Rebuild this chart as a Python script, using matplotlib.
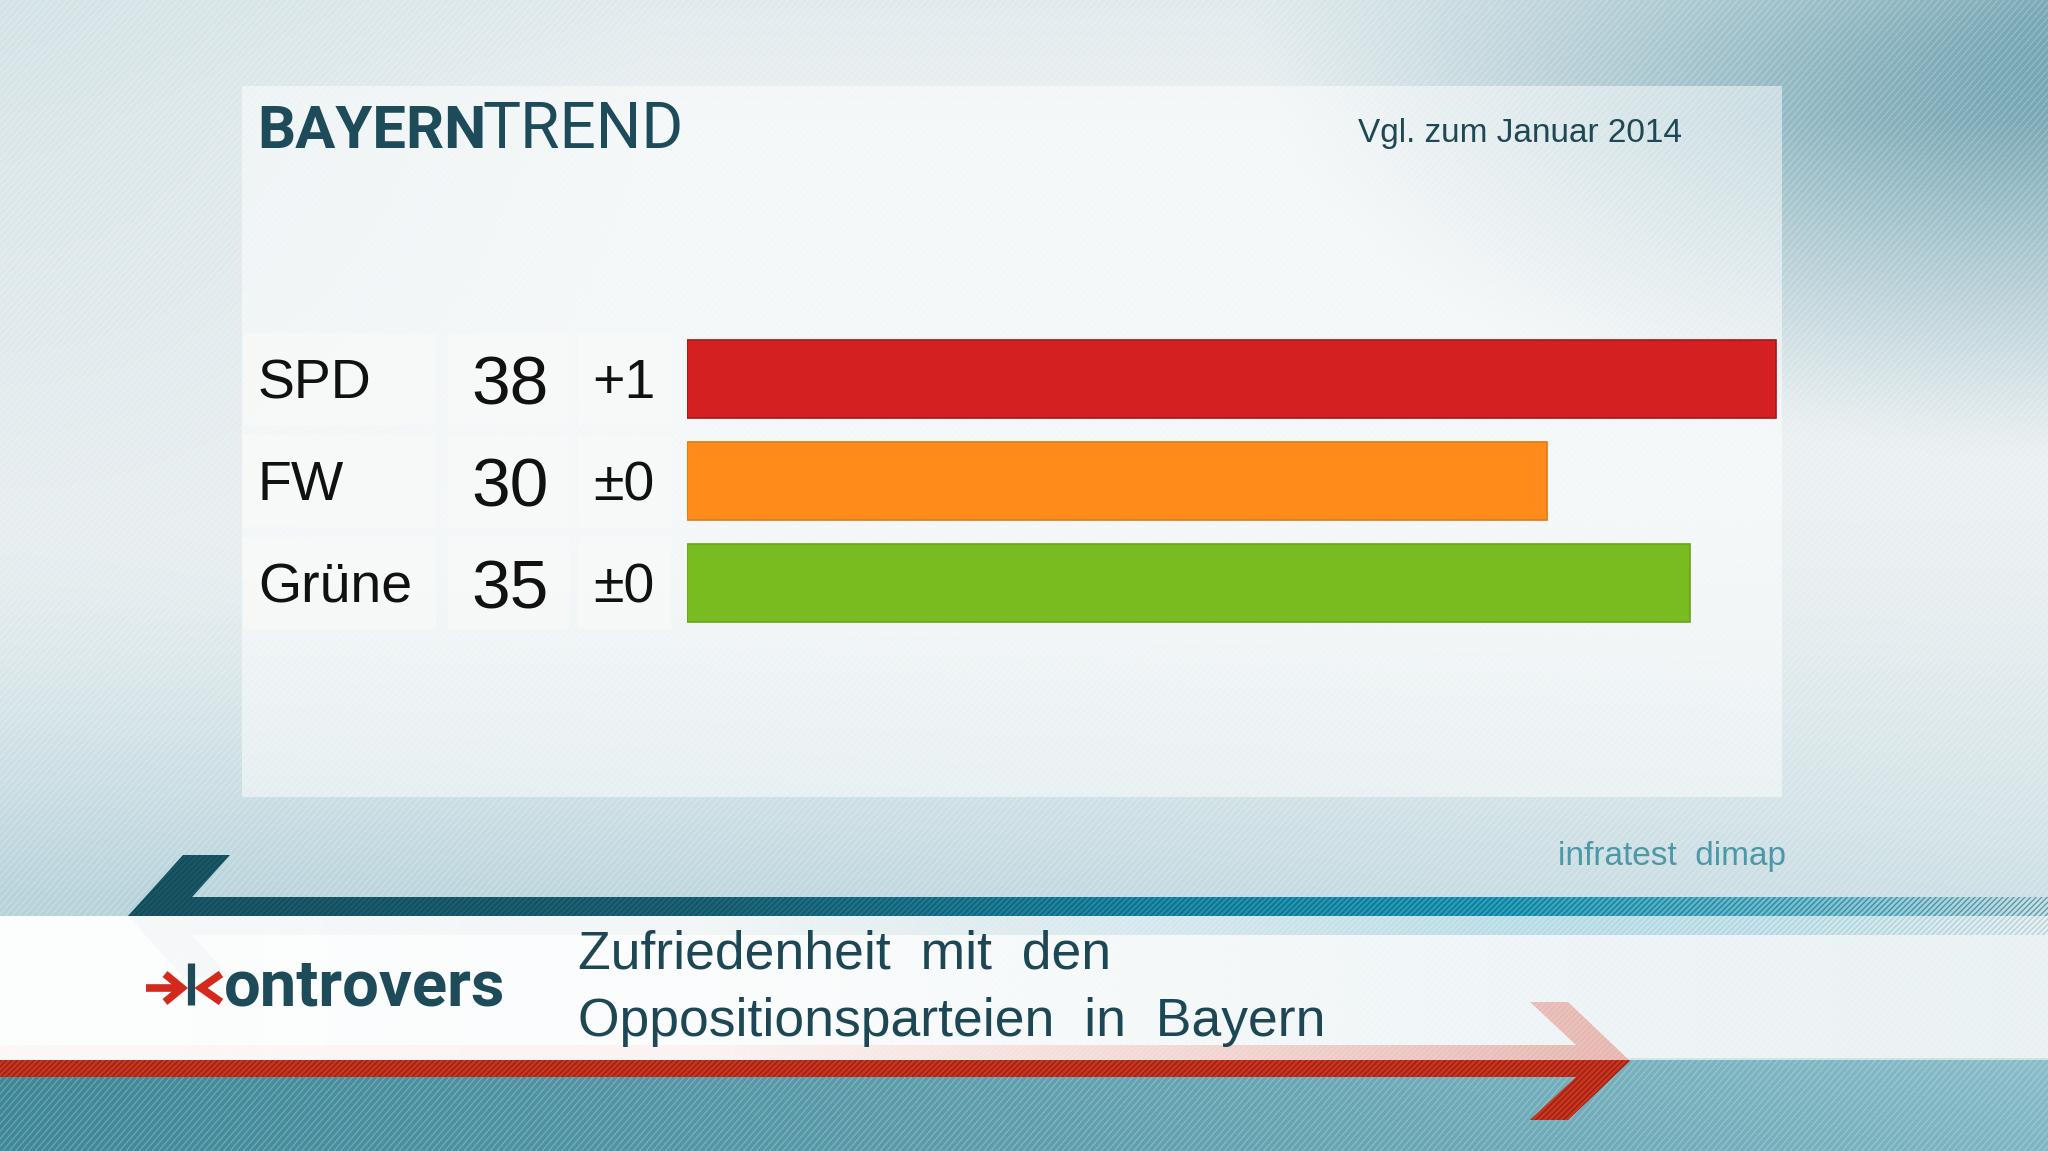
import numpy as np
import matplotlib
matplotlib.use("Agg")
import matplotlib.pyplot as plt
from matplotlib.patches import Rectangle, Polygon
from matplotlib.collections import LineCollection
from matplotlib.colors import to_rgb

plt.rcParams["font.family"] = ["Liberation Sans", "DejaVu Sans"]

# ── data ──────────────────────────────────────────────────────────
parties = ["SPD", "FW", "Grüne"]
satisfaction = [38, 30, 35]
change_vs_jan = ["+1", "±0", "±0"]

# ── styles ────────────────────────────────────────────────────────
bar_colors = ["#d42020", "#ff8c1a", "#79bc1f"]
bar_edges = ["#a51818", "#e07a12", "#68a41a"]
DARK_TEAL = "#1d4b5a"
TXT = "#111111"

W, H = 2048, 1151
fig = plt.figure(figsize=(W / 100, H / 100), dpi=100)
bg = fig.add_axes([0, 0, 1, 1])
bg.set_xlim(0, W)
bg.set_ylim(H, 0)
bg.axis("off")


def blend(img, col, t):
    c = np.array(to_rgb(col))
    return img * (1 - t[..., None]) + c * t[..., None]


# ── background gradient ───────────────────────────────────────────
yy, xx = np.mgrid[0:H:4, 0:W:4].astype(float)
img = np.ones(xx.shape + (3,)) * np.array(to_rgb("#eaf0f2"))
t = np.clip(1 - np.hypot((W - xx) * 0.85, yy * 1.5) / 680, 0, 1) ** 1.1
img = blend(img, "#4e8d9e", t)
t = np.clip(1 - np.hypot(xx, yy) / 650, 0, 1) * 0.4
img = blend(img, "#b9d2d9", t)
t = np.clip(1 - yy / 120, 0, 1) * 0.35
img = blend(img, "#cfe0e5", t)
t = np.clip((yy - 520) / 380, 0, 1) ** 1.3 * 0.8 * (1 - 0.45 * xx / W)
img = blend(img, "#a9cbd4", t)
bg.imshow(img, extent=(0, W, H, 0), aspect="auto", interpolation="bilinear", zorder=0)

# bottom teal strip
gx = np.linspace(0, 1, 256)
bot = np.zeros((8, 256, 3))
for k in range(8):
    bot[k] = blend(np.ones((256, 3)) * np.array(to_rgb("#3e8797")),
                   "#88bdc9", gx ** 1.1)
    bot[k] = blend(bot[k], "#4a8f9f", np.full(256, 0.15 * k / 7))
bg.imshow(bot, extent=(0, W, H, 1058), aspect="auto", interpolation="bilinear", zorder=0.5)

# diagonal hatch over background
segs = []
for c in np.arange(-1200, W + 40, 6.5):
    segs.append([(c, H), (c + H / 1.15, 0)])
bg.add_collection(LineCollection(segs, colors="white", linewidths=0.9, alpha=0.24, zorder=1))

# ── panel ─────────────────────────────────────────────────────────
bg.add_patch(Rectangle((242, 86), 1540, 711, facecolor="white", alpha=0.5,
                       edgecolor="none", zorder=2))

# ── teal arrow (left-pointing tail) ───────────────────────────────
teal_pts = [(128, 916), (183, 855), (230, 855), (192, 897), (W, 897), (W, 935),
            (192, 935), (230, 977), (183, 977)]
teal_poly = Polygon(teal_pts, closed=True, facecolor="none", edgecolor="none", zorder=3)
bg.add_patch(teal_poly)
tg = np.zeros((4, 512, 3))
xs = np.linspace(0, W, 512)
stops_x = [0, 700, 1150, 1500, 1800, 2048]
stops_c = ["#1a5361", "#1b6577", "#1b8eae", "#22a3c2", "#6cc4d8", "#c4e4ec"]
cols = np.array([to_rgb(c) for c in stops_c])
for ch in range(3):
    tg[:, :, ch] = np.interp(xs, stops_x, cols[:, ch])
im = bg.imshow(tg, extent=(0, W, 977, 855), aspect="auto", interpolation="bilinear", zorder=3)
im.set_clip_path(teal_poly)
bg.add_patch(Polygon(teal_pts, closed=True, facecolor="none", edgecolor="#0c3844",
                     hatch="//////", lw=0, alpha=0.45, zorder=3.1))

# ── red arrow (right-pointing) ────────────────────────────────────
red_pts = [(0, 1045), (1576, 1045), (1530, 1002), (1568, 1002), (1630, 1061),
           (1568, 1120), (1530, 1120), (1576, 1077), (0, 1077)]
bg.add_patch(Polygon(red_pts, closed=True, facecolor="#cc3420", edgecolor="none", zorder=3.2))
bg.add_patch(Polygon(red_pts, closed=True, facecolor="none", edgecolor="#6a140a",
                     hatch="//////", lw=0, alpha=0.55, zorder=3.3))

# ── white band ────────────────────────────────────────────────────
band = np.ones((4, 512, 4))
band[:, :, 3] = np.interp(xs, [0, 700, 1200, 1600, 2048], [0.97, 0.95, 0.82, 0.68, 0.55])
bg.imshow(band, extent=(0, W, 1060, 916), aspect="auto", interpolation="bilinear", zorder=4)

# ── titles ────────────────────────────────────────────────────────
bg.text(257, 148, "BAYERN", fontsize=43, fontweight="bold", family=["Roboto", "DejaVu Sans"],
        color=DARK_TEAL, ha="left", va="baseline", zorder=6)
bg.text(482, 148, "TREND", fontsize=46, family=["Roboto", "DejaVu Sans"],
        color=DARK_TEAL, ha="left", va="baseline", zorder=6)
bg.text(1520, 142, "Vgl. zum Januar 2014", fontsize=24, color="#1e4854",
        ha="center", va="baseline", zorder=6)
bg.text(1558, 865, "infratest  dimap", fontsize=24, color="#4d98a6",
        ha="left", va="baseline", zorder=6)

# ── rows: cells and labels ────────────────────────────────────────
pitch = 102
top = 379 - pitch / 2
for i, (name, val, chg) in enumerate(zip(parties, satisfaction, change_vs_jan)):
    cy = top + (i + 0.5) * pitch
    for x0, x1 in [(243, 436), (448, 569), (578, 671)]:
        bg.add_patch(Rectangle((x0, cy - 46), x1 - x0, 92, facecolor="#f8f9f9",
                               alpha=0.85, edgecolor="none", zorder=5))
    bg.text(258, cy + 19, name, fontsize=40, color=TXT, ha="left", va="baseline", zorder=6)
    bg.text(510, cy + 25, str(val), fontsize=50, color=TXT, ha="center", va="baseline", zorder=6)
    bg.text(624, cy + 19, chg, fontsize=40, color=TXT, ha="center", va="baseline", zorder=6)

# ── bars ──────────────────────────────────────────────────────────
ax_bar = fig.add_axes([687 / W, 1 - (top + len(parties) * pitch) / H,
                       28.65 * 40 / W, len(parties) * pitch / H], zorder=2)
ax_bar.barh(range(len(parties)), satisfaction, height=0.76, color=bar_colors,
            edgecolor=bar_edges, linewidth=1.2)
ax_bar.set_xlim(0, 40)
ax_bar.set_ylim(len(parties) - 0.5, -0.5)
ax_bar.axis("off")
ax_bar.patch.set_alpha(0)

# ── banner texts ──────────────────────────────────────────────────
bg.text(578, 968, "Zufriedenheit  mit  den", fontsize=38.5, color="#1e4756",
        ha="left", va="baseline", zorder=6)
bg.text(578, 1036, "Oppositionsparteien  in  Bayern", fontsize=38.5, color="#1e4756",
        ha="left", va="baseline", zorder=6)

# ── kontrovers logo ───────────────────────────────────────────────
RED = "#d42a1e"
bg.plot([146, 180], [988, 988], color=RED, lw=5.5, solid_capstyle="butt", zorder=6)
bg.plot([165, 182, 165], [974, 988, 1002], color=RED, lw=5.5, solid_joinstyle="miter",
        solid_capstyle="butt", zorder=6)
bg.plot([190.5, 190.5], [963, 1005], color=DARK_TEAL, lw=5.2, solid_capstyle="butt", zorder=6)
bg.plot([221, 201, 221], [974, 988, 1002], color=RED, lw=5.5, solid_joinstyle="miter",
        solid_capstyle="butt", zorder=6)
bg.text(224, 1005, "ontrovers", fontsize=47, fontweight="bold",
        family=["Roboto", "DejaVu Sans"], color=DARK_TEAL, ha="left", va="baseline", zorder=6)

fig.savefig("out.png", dpi=100, facecolor="white")
